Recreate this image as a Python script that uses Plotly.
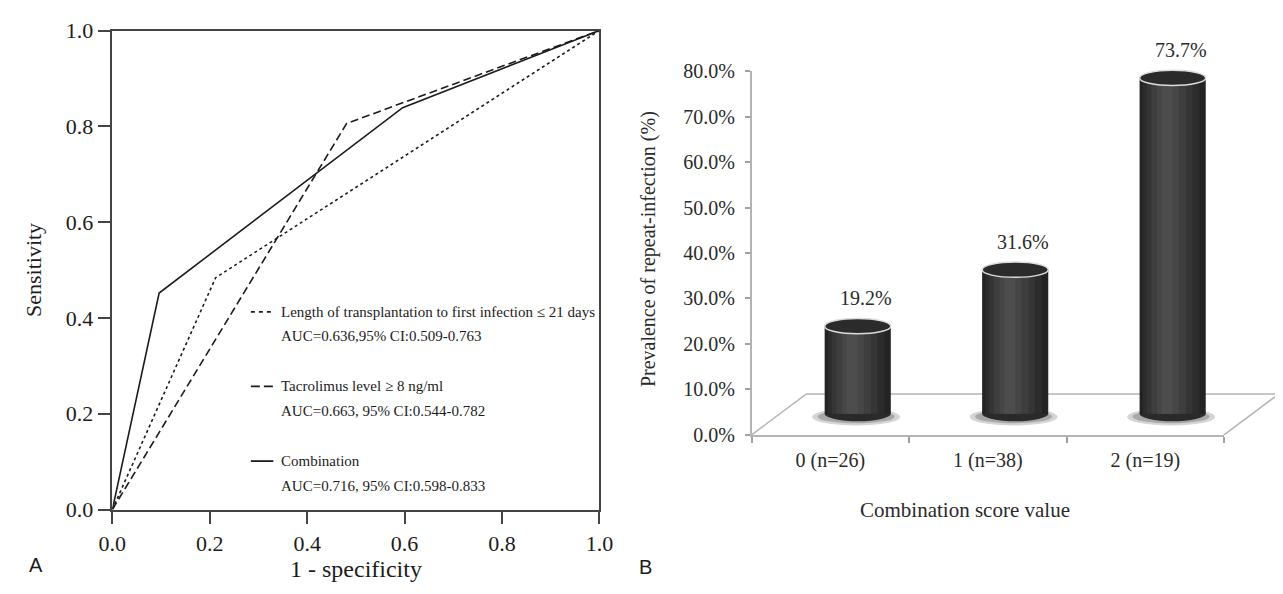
import plotly.graph_objects as go

W, H = 1283, 594
PAD = 8  # default page margin of the html body
FW, FH = W - PAD, H - PAD

# ---------------- Panel A: ROC curves ----------------
fpr_length = [0.0, 0.212, 1.0]
tpr_length = [0.0, 0.484, 1.0]
fpr_tacro = [0.0, 0.481, 1.0]
tpr_tacro = [0.0, 0.806, 1.0]
fpr_comb = [0.0, 0.096, 0.596, 1.0]
tpr_comb = [0.0, 0.452, 0.839, 1.0]

roc_ticks = [0.0, 0.2, 0.4, 0.6, 0.8, 1.0]
legend_names = ["Length of transplantation to first infection \u2264 21 days",
                "Tacrolimus level \u2265 8 ng/ml",
                "Combination"]
legend_auc = ["AUC=0.636,95% CI:0.509-0.763",
              "AUC=0.663, 95% CI:0.544-0.782",
              "AUC=0.716, 95% CI:0.598-0.833"]
legend_dash = ["4px,4px", "9px,4px", "solid"]

# ---------------- Panel B: prevalence by combination score ----------------
score_labels = ["0 (n=26)", "1 (n=38)", "2 (n=19)"]
prevalence = [19.2, 31.6, 73.7]
pct_ticks = [0, 10, 20, 30, 40, 50, 60, 70, 80]
pct_ticktext = [f"{t:.1f}%" for t in pct_ticks]

SERIF = "Liberation Serif, Times New Roman, serif"
SANS = "Liberation Sans, Arial, sans-serif"
INK = "#1c1c1c"
GREY_TXT = "#2a2a2a"


def px(x):
    return (x - PAD) / FW


def py(y):
    return 1 - (y - PAD) / FH


fig = go.Figure()

# ROC traces
line_c = "#1c1c1c"
fig.add_trace(go.Scatter(x=fpr_length, y=tpr_length, mode="lines",
                         line=dict(color=line_c, width=1.6, dash="3px,3px"),
                         name=legend_names[0], showlegend=False, cliponaxis=False))
fig.add_trace(go.Scatter(x=fpr_tacro, y=tpr_tacro, mode="lines",
                         line=dict(color=line_c, width=1.6, dash="8px,4px"),
                         name=legend_names[1], showlegend=False, cliponaxis=False))
fig.add_trace(go.Scatter(x=fpr_comb, y=tpr_comb, mode="lines",
                         line=dict(color=line_c, width=1.6),
                         name=legend_names[2], showlegend=False, cliponaxis=False))

# Panel B: invisible trace that carries the category axis
fig.add_trace(go.Scatter(x=score_labels, y=prevalence, xaxis="x2", yaxis="y2",
                         mode="markers", marker=dict(opacity=0), hoverinfo="skip",
                         showlegend=False))

# Cylinder bodies: overlaid bars of decreasing width to imitate shading
idx = list(range(len(score_labels)))
layers = [(0.42, -0.21, "#232323"), (0.36, -0.19, "#2c2c2c"), (0.29, -0.165, "#353535"),
          (0.22, -0.135, "#3e3e3e"), (0.14, -0.10, "#464646"), (0.07, -0.07, "#4d4d4d")]
for w, off, col in layers:
    fig.add_trace(go.Bar(x=idx, y=prevalence, xaxis="x3", yaxis="y3",
                         width=w, offset=off, marker=dict(color=col, line=dict(width=0)),
                         showlegend=False, hoverinfo="skip"))

shapes = []
# floor of the 3-D chart (decoration)
x_l, x_r, y_f, y_b, dx = 754, 1237, 441.7, 399, 56
shapes.append(dict(type="path", xref="paper", yref="paper", layer="below",
                   path=f"M {px(x_l)},{py(y_f)} L {px(x_l+dx)},{py(y_b)} L {px(x_r+dx)},{py(y_b)} L {px(x_r)},{py(y_f)}",
                   line=dict(color="#b4b4b4", width=1.5), fillcolor="rgba(255,255,255,0)"))

half_w = 0.21
ell_h = 1.68
for i, v in zip(idx, prevalence):
    # soft shadow
    shapes.append(dict(type="circle", xref="x3", yref="y3", layer="below",
                       x0=i - 0.29, x1=i + 0.27, y0=-2.6, y1=1.2,
                       fillcolor="#d4d4d4", line=dict(width=0)))
    shapes.append(dict(type="circle", xref="x3", yref="y3", layer="below",
                       x0=i - 0.255, x1=i + 0.235, y0=-2.1, y1=0.8,
                       fillcolor="#a8a8a8", line=dict(width=0)))
    # rounded bottom
    shapes.append(dict(type="circle", xref="x3", yref="y3", layer="below",
                       x0=i - half_w, x1=i + half_w, y0=-ell_h, y1=ell_h,
                       fillcolor="#2a2a2a", line=dict(width=0)))
    # top ellipse
    shapes.append(dict(type="circle", xref="x3", yref="y3", layer="above",
                       x0=i - half_w, x1=i + half_w, y0=v - ell_h, y1=v + ell_h,
                       fillcolor="#2b2b2b", line=dict(color="#dcdcdc", width=1.5)))

# legend keys of panel A
legend_rows = [313.3, 391, 469]
for yy, dsh in zip(legend_rows, legend_dash):
    shapes.append(dict(type="line", xref="paper", yref="paper",
                       x0=px(242), x1=px(265), y0=py(yy), y1=py(yy),
                       line=dict(color=line_c, width=1.8, dash=dsh)))

annotations = []
for yy, nm, auc in zip(legend_rows, legend_names, legend_auc):
    annotations.append(dict(xref="paper", yref="paper", x=px(271), y=py(yy), text=nm,
                            showarrow=False, xanchor="left", yanchor="middle",
                            font=dict(family=SERIF, size=15, color=INK)))
    annotations.append(dict(xref="paper", yref="paper", x=px(271), y=py(yy + 25.5), text=auc,
                            showarrow=False, xanchor="left", yanchor="middle",
                            font=dict(family=SERIF, size=15, color=INK)))

# axis titles / panel letters
annotations += [
    dict(xref="paper", yref="paper", x=px(20), y=py(270), text="Sensitivity", textangle=-90,
         showarrow=False, xanchor="center", yanchor="middle", font=dict(family=SERIF, size=22, color=INK)),
    dict(xref="paper", yref="paper", x=px(349), y=py(581), text="1 - specificity",
         showarrow=False, xanchor="center", yanchor="middle", font=dict(family=SERIF, size=24, color=INK)),
    dict(xref="paper", yref="paper", x=px(22), y=py(577), text="A",
         showarrow=False, xanchor="center", yanchor="middle", font=dict(family=SANS, size=20, color=INK)),
    dict(xref="paper", yref="paper", x=px(646), y=py(579), text="B",
         showarrow=False, xanchor="center", yanchor="middle", font=dict(family=SANS, size=20, color=INK)),
    dict(xref="paper", yref="paper", x=px(648), y=py(248), text="Prevalence of repeat-infection (%)",
         textangle=-90, showarrow=False, xanchor="center", yanchor="middle",
         font=dict(family=SERIF, size=20, color=GREY_TXT)),
    dict(xref="paper", yref="paper", x=px(972), y=py(520), text="Combination score value",
         showarrow=False, xanchor="center", yanchor="middle",
         font=dict(family=SERIF, size=21, color=GREY_TXT)),
]
# value labels above the cylinders
for i, v in zip(idx, prevalence):
    annotations.append(dict(xref="x3", yref="y3", x=i, y=v, text=f"{v:.1f}%", showarrow=False,
                            xanchor="center", yanchor="middle", xshift=8, yshift=28,
                            font=dict(family=SERIF, size=20, color=GREY_TXT)))

axis_a = dict(range=[0, 1], tickvals=roc_ticks, tickformat=".1f", ticks="outside", ticklen=13,
              tickwidth=1.5, tickcolor="#444", showline=True, linecolor="#444", linewidth=1.5,
              mirror=True, showgrid=False, zeroline=False,
              tickfont=dict(family=SERIF, size=22, color=INK))

fig.update_layout(
    width=FW, height=FH,
    margin=dict(l=0, r=0, t=0, b=0),
    paper_bgcolor="white", plot_bgcolor="rgba(0,0,0,0)",
    barmode="overlay",
    xaxis=dict(domain=[px(100.4), px(598.4)], anchor="y", **axis_a),
    yaxis=dict(domain=[py(519.5), py(20)], anchor="x", **axis_a),
    xaxis2=dict(domain=[px(754), px(1237)], anchor="y2", type="category",
                categoryorder="array", categoryarray=score_labels, range=[-0.5, 2.5],
                tickson="boundaries", ticks="outside", ticklen=6, tickcolor="#a0a0a0", tickwidth=1.5,
                ticklabelstandoff=6,
                showline=True, linecolor="#b4b4b4", linewidth=1.5, showgrid=False, zeroline=False,
                tickfont=dict(family=SERIF, size=20, color=GREY_TXT)),
    yaxis2=dict(domain=[py(441.7), py(62.3)], anchor="x2", range=[0, 80], tickvals=pct_ticks,
                ticktext=pct_ticktext, ticks="outside", ticklen=5, tickcolor="#a0a0a0",
                ticklabelstandoff=6,
                tickwidth=1.5, showline=True, linecolor="#b4b4b4", linewidth=1.5, showgrid=False,
                zeroline=False, tickfont=dict(family=SERIF, size=20, color=GREY_TXT)),
    xaxis3=dict(domain=[px(782), px(1265)], anchor="y3", range=[-0.5, 2.5], visible=False),
    yaxis3=dict(domain=[py(443.25), py(39.5)], anchor="x3", range=[-5, 80], visible=False),
    shapes=shapes,
    annotations=annotations,
    showlegend=False,
)

fig.write_html("out.html")
